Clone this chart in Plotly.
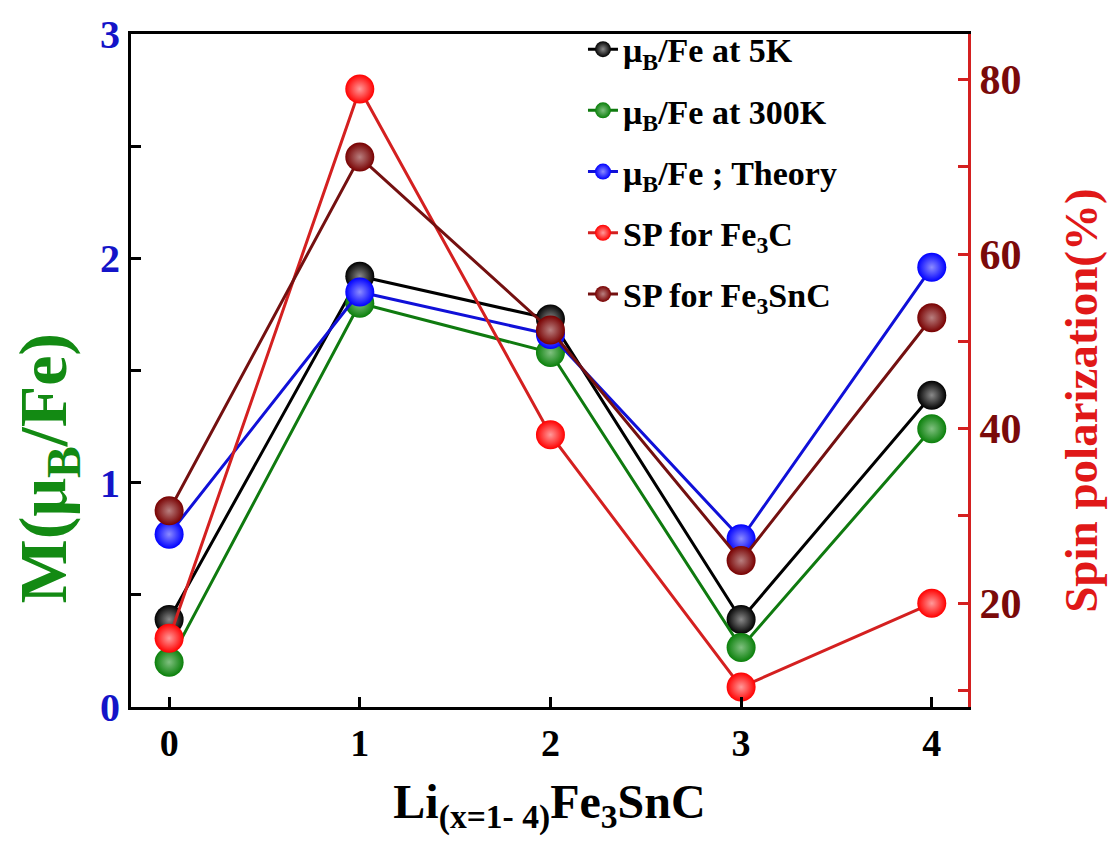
import plotly.graph_objects as go

# Li content in Li(x)Fe3SnC
x_li = [0, 1, 2, 3, 4]

# Magnetic moment per Fe atom (left axis, muB/Fe)
moment_5k = [0.39, 1.92, 1.73, 0.39, 1.39]
moment_300k = [0.20, 1.80, 1.58, 0.265, 1.24]
moment_theory = [0.77, 1.85, 1.66, 0.75, 1.96]

# Spin polarization (right axis, %)
sp_fe3c = [16.0, 78.9, 39.3, 10.4, 20.0]
sp_fe3snc = [30.6, 71.1, 51.3, 24.9, 52.7]

left_ticks = [0, 1, 2, 3]
right_ticks = [20, 40, 60, 80]

FONT = "Liberation Serif"

series = [
    # name, values, axis, marker colour, line colour, highlight colour
    ("μ<sub>B</sub>/Fe at 5K", moment_5k, "y", "#000000", "#000000", "#8a8a8a"),
    ("μ<sub>B</sub>/Fe at 300K", moment_300k, "y", "#0a800a", "#0f7a0f", "#80c080"),
    ("μ<sub>B</sub>/Fe ; Theory", moment_theory, "y", "#0000ff", "#1010d8", "#8c8cff"),
    ("SP for Fe<sub>3</sub>C", sp_fe3c, "y2", "#ff0000", "#d42020", "#ff9a9a"),
    ("SP for Fe<sub>3</sub>SnC", sp_fe3snc, "y2", "#780000", "#741010", "#b88080"),
]

fig = go.Figure()
for i, (name, vals, axis, mcol, lcol, hcol) in enumerate(series):
    fig.add_trace(go.Scatter(
        x=x_li, y=vals, yaxis=axis, name=name,
        mode="lines+markers",
        legendgroup=f"g{i}",
        line=dict(color=lcol, width=3),
        marker=dict(size=29, color=mcol, line=dict(width=0),
                    gradient=dict(type="radial", color=hcol)),
    ))

# Axis titles placed as rotated annotations
fig.add_annotation(
    text="M(μ<sub>B</sub>/Fe)", textangle=-90, showarrow=False,
    xref="paper", yref="paper", x=-0.1, y=0.355, xanchor="center", yanchor="middle",
    font=dict(family=FONT, size=68, color="#138a13", weight="bold"),
)
fig.add_annotation(
    text="Spin polarization(%)", textangle=-90, showarrow=False,
    xref="paper", yref="paper", x=1.135, y=0.455, xanchor="center", yanchor="middle",
    font=dict(family=FONT, size=47, color="#e01818", weight="bold"),
)

fig.update_layout(
    width=1109, height=857,
    margin=dict(l=131, r=141, t=26, b=150),
    paper_bgcolor="white", plot_bgcolor="white",
    font=dict(family=FONT, size=36, color="black", weight="bold"),
    showlegend=True,
    legend=dict(
        x=0.54, y=1.02, xanchor="left", yanchor="top",
        bgcolor="rgba(0,0,0,0)", borderwidth=0,
        font=dict(family=FONT, size=34, color="black", weight="bold"),
        tracegroupgap=14, itemsizing="trace",
    ),
    xaxis=dict(
        range=[-0.2, 4.19], tickvals=x_li, ticks="inside", ticklen=10,
        tickwidth=3, tickcolor="black",
        showline=True, linecolor="black", linewidth=3, mirror=True,
        showgrid=False, zeroline=False,
        tickfont=dict(family=FONT, size=38, color="black", weight="bold"),
        title=dict(text="Li<sub>(x=1- 4)</sub>Fe<sub>3</sub>SnC",
                   font=dict(family=FONT, size=48, color="black", weight="bold"),
                   standoff=22),
    ),
    yaxis=dict(
        range=[0, 3], tickvals=left_ticks, ticks="inside", ticklen=10,
        tickwidth=3, tickcolor="black",
        minor=dict(dtick=0.5, ticks="inside", ticklen=10, tickwidth=3, tickcolor="black"),
        showline=True, linecolor="black", linewidth=3,
        showgrid=False, zeroline=False,
        tickfont=dict(family=FONT, size=40, color="#1414c8", weight="bold"),
    ),
    yaxis2=dict(
        overlaying="y", side="right",
        range=[8.12, 85.2], tickvals=right_ticks, ticks="inside", ticklen=10,
        tickwidth=3, tickcolor="#d42020",
        minor=dict(tickvals=[10, 30, 50, 70], ticks="inside", ticklen=10, tickwidth=3,
                   tickcolor="#d42020"),
        showline=True, linecolor="#d42020", linewidth=3,
        showgrid=False, zeroline=False,
        tickfont=dict(family=FONT, size=42, color="#7a0a0a", weight="bold"),
    ),
)

fig.write_html("out.html")
